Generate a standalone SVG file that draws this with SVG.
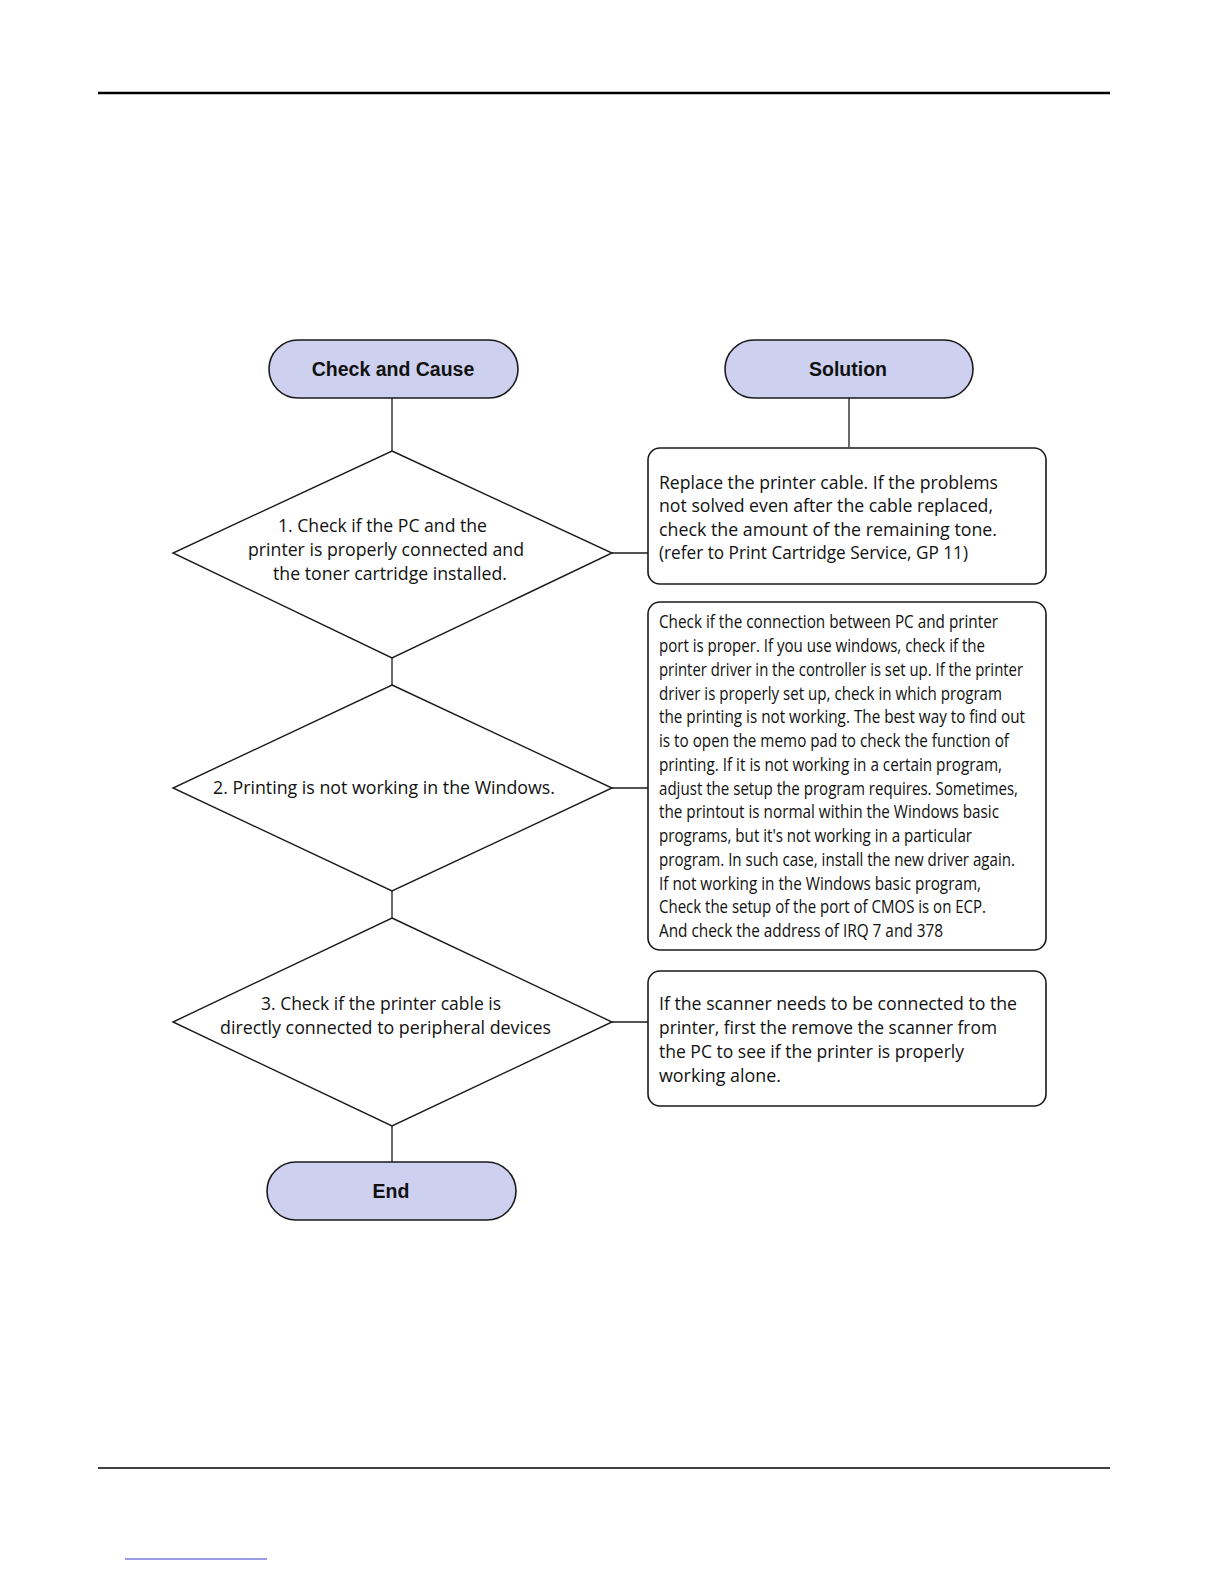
<svg xmlns="http://www.w3.org/2000/svg" width="1224" height="1584" viewBox="0 0 1224 1584">
<style>
.term{fill:#cdd0ee;stroke:#1a1a1a;stroke-width:1.6}
.dia{fill:#ffffff;stroke:#1a1a1a;stroke-width:1.4}
.box{fill:#ffffff;stroke:#1a1a1a;stroke-width:1.6}
.conn{stroke:#1a1a1a;stroke-width:1.3;fill:none}
.tl{font-family:"Liberation Sans",Arial,sans-serif;font-weight:bold;font-size:19.5px;fill:#111;text-anchor:middle}
.tx{font-family:"Open Sans","Liberation Sans",sans-serif;font-size:18.5px;fill:#111}
.txs{font-family:"Open Sans","Liberation Sans",sans-serif;font-size:17.5px;fill:#111}
</style>
<rect width="1224" height="1584" fill="#ffffff"/>
<line x1="98" y1="93" x2="1110" y2="93" stroke="#000" stroke-width="2.5"/>
<line x1="98" y1="1468" x2="1110" y2="1468" stroke="#000" stroke-width="1.5"/>
<line x1="125" y1="1559" x2="267" y2="1559" stroke="#3a3acc" stroke-width="1.2"/>

<g id="connectors">
<line class="conn" x1="392" y1="398" x2="392" y2="451"/>
<line class="conn" x1="849" y1="398" x2="849" y2="447"/>
<line class="conn" x1="392" y1="658" x2="392" y2="685"/>
<line class="conn" x1="392" y1="891" x2="392" y2="918"/>
<line class="conn" x1="392" y1="1126" x2="392" y2="1162"/>
<line class="conn" x1="612" y1="553" x2="648" y2="553"/>
<line class="conn" x1="612" y1="788" x2="648" y2="788"/>
<line class="conn" x1="612" y1="1022" x2="648" y2="1022"/>
</g>

<g id="check-and-cause">
<rect class="term" x="269" y="340" width="249" height="58" rx="29" ry="29"/>
<text class="tl" x="393" y="376">Check and Cause</text>
</g>
<g id="solution">
<rect class="term" x="725" y="340" width="248" height="58" rx="29" ry="29"/>
<text class="tl" x="848" y="376">Solution</text>
</g>

<g id="check1">
<polygon class="dia" points="392,451 612,553 392,658 173,553"/>
<text class="tx" x="278" y="532" textLength="209" lengthAdjust="spacingAndGlyphs">1. Check if the PC and the</text>
<text class="tx" x="248" y="556" textLength="276" lengthAdjust="spacingAndGlyphs">printer is properly connected and</text>
<text class="tx" x="273" y="580" textLength="234" lengthAdjust="spacingAndGlyphs">the toner cartridge installed.</text>
</g>
<g id="check2">
<polygon class="dia" points="392,685 612,788 392,891 173,788"/>
<text class="tx" x="213" y="794" textLength="342" lengthAdjust="spacingAndGlyphs">2. Printing is not working in the Windows.</text>
</g>
<g id="check3">
<polygon class="dia" points="392,918 612,1022 392,1126 173,1022"/>
<text class="tx" x="261" y="1010" textLength="240" lengthAdjust="spacingAndGlyphs">3. Check if the printer cable is</text>
<text class="tx" x="220" y="1034" textLength="331" lengthAdjust="spacingAndGlyphs">directly connected to peripheral devices</text>
</g>
<g id="end">
<rect class="term" x="267" y="1162" width="249" height="58" rx="29" ry="29"/>
<text class="tl" x="391" y="1198">End</text>
</g>

<g id="solution1">
<rect class="box" x="648" y="448" width="398" height="136" rx="12" ry="12"/>
<text class="tx" x="659" y="489" textLength="339" lengthAdjust="spacingAndGlyphs">Replace the printer cable. If the problems</text>
<text class="tx" x="659" y="512" textLength="334" lengthAdjust="spacingAndGlyphs">not solved even after the cable replaced,</text>
<text class="tx" x="659" y="536" textLength="338" lengthAdjust="spacingAndGlyphs">check the amount of the remaining tone.</text>
<text class="tx" x="659" y="559" textLength="309" lengthAdjust="spacingAndGlyphs">(refer to Print Cartridge Service, GP 11)</text>
</g>
<g id="solution2">
<rect class="box" x="648" y="602" width="398" height="348" rx="12" ry="12"/>
<text class="txs" x="659" y="628" textLength="339" lengthAdjust="spacingAndGlyphs">Check if the connection between PC and printer</text>
<text class="txs" x="659" y="652" textLength="326" lengthAdjust="spacingAndGlyphs">port is proper. If you use windows, check if the</text>
<text class="txs" x="659" y="676" textLength="364" lengthAdjust="spacingAndGlyphs">printer driver in the controller is set up. If the printer</text>
<text class="txs" x="659" y="700" textLength="343" lengthAdjust="spacingAndGlyphs">driver is properly set up, check in which program</text>
<text class="txs" x="659" y="723" textLength="366" lengthAdjust="spacingAndGlyphs">the printing is not working. The best way to find out</text>
<text class="txs" x="659" y="747" textLength="350" lengthAdjust="spacingAndGlyphs">is to open the memo pad to check the function of</text>
<text class="txs" x="659" y="771" textLength="343" lengthAdjust="spacingAndGlyphs">printing. If it is not working in a certain program,</text>
<text class="txs" x="659" y="795" textLength="359" lengthAdjust="spacingAndGlyphs">adjust the setup the program requires. Sometimes,</text>
<text class="txs" x="659" y="818" textLength="340" lengthAdjust="spacingAndGlyphs">the printout is normal within the Windows basic</text>
<text class="txs" x="659" y="842" textLength="313" lengthAdjust="spacingAndGlyphs">programs, but it's not working in a particular</text>
<text class="txs" x="659" y="866" textLength="356" lengthAdjust="spacingAndGlyphs">program. In such case, install the new driver again.</text>
<text class="txs" x="659" y="890" textLength="322" lengthAdjust="spacingAndGlyphs">If not working in the Windows basic program,</text>
<text class="txs" x="659" y="913" textLength="327" lengthAdjust="spacingAndGlyphs">Check the setup of the port of CMOS is on ECP.</text>
<text class="txs" x="659" y="937" textLength="284" lengthAdjust="spacingAndGlyphs">And check the address of  IRQ 7 and 378</text>
</g>
<g id="solution3">
<rect class="box" x="648" y="971" width="398" height="135" rx="12" ry="12"/>
<text class="tx" x="659" y="1010" textLength="358" lengthAdjust="spacingAndGlyphs">If the scanner needs to be connected to the</text>
<text class="tx" x="659" y="1034" textLength="338" lengthAdjust="spacingAndGlyphs">printer, first the remove the scanner from</text>
<text class="tx" x="659" y="1058" textLength="305" lengthAdjust="spacingAndGlyphs">the PC to see if the printer is properly</text>
<text class="tx" x="659" y="1082" textLength="122" lengthAdjust="spacingAndGlyphs">working alone.</text>
</g>
</svg>
